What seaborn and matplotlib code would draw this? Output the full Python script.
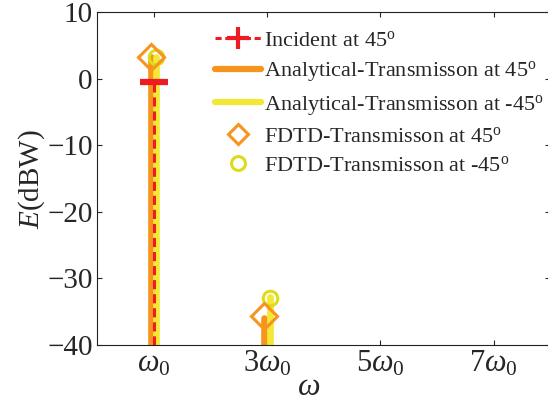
"""E-field spectrum: incident vs transmitted harmonics"""

import seaborn as sns
import matplotlib.pyplot as plt
from matplotlib.lines import Line2D

# harmonic positions in units of omega_0
harmonics = [1, 3]
incident_45 = [-0.5]                 # only the fundamental is visible
analytical_45 = [3.3, -36.0]
analytical_m45 = [3.3, -32.8]
fdtd_45 = [3.3, -35.7]
fdtd_m45 = [3.2, -33.0]

x_ticks = [1, 3, 5, 7]
x_ticklabels = [r"$\omega_0$", r"$3\omega_0$", r"$5\omega_0$", r"$7\omega_0$"]
y_ticks = [10, 0, -10, -20, -30, -40]

RED = "#ED1C24"
ORANGE = "#F7941D"
YELLOW = "#F2E835"
YELLOW_DARK = "#DEDC1A"

sns.set_theme(style="ticks")
plt.rcParams["font.family"] = ["Liberation Serif", "DejaVu Serif"]
plt.rcParams["mathtext.fontset"] = "custom"
plt.rcParams["mathtext.rm"] = "Liberation Serif"
plt.rcParams["mathtext.it"] = "Liberation Serif:italic"
plt.rcParams["xtick.direction"] = "in"
plt.rcParams["ytick.direction"] = "in"

fig = plt.figure(figsize=(5.48, 4.05), dpi=100)
ax = fig.add_axes([0.177, 0.148, 0.827, 0.822])

base = -40
off = 0.05
# stems
for x, v in zip(harmonics, analytical_45):
    sns.lineplot(x=[x - off, x - off], y=[base, v], color=ORANGE, lw=4.8,
                 estimator=None, sort=False, ax=ax)
for x, v in zip(harmonics, analytical_m45):
    sns.lineplot(x=[x + off, x + off], y=[base, v], color=YELLOW, lw=4.8,
                 estimator=None, sort=False, ax=ax)
for x, v in zip(harmonics[:1], incident_45):
    ax.plot([x + 0.01, x + 0.01], [base, v], color=RED, lw=2.2, ls=(0, (3, 1.6)))
    ax.plot([x + 0.01], [v], marker="_", ms=20, mew=4.5, color=RED)

# FDTD markers
ax.plot([x + off for x in harmonics], fdtd_m45, ls="none", marker="o", ms=10.5,
        mfc="none", mec=YELLOW_DARK, mew=2.2)
ax.plot([x - off for x in harmonics], fdtd_45, ls="none", marker="D", ms=13,
        mfc="none", mec=ORANGE, mew=2.2)

ax.set_xlim(0, 8)
ax.set_ylim(-40, 10)
ax.set_xticks(x_ticks)
ax.set_xticklabels(x_ticklabels, fontsize=22)
ax.set_yticks(y_ticks)
ax.tick_params(axis="y", labelsize=21)
ax.tick_params(length=3.5, width=0.8, top=True, right=True, pad=3)
for s in ax.spines.values():
    s.set_linewidth(0.8)
    s.set_color("#222222")

ax.set_xlabel(r"$\omega$", fontsize=23)
ax.xaxis.set_label_coords(0.466, -0.085)
ax.set_ylabel(r"$E$(dBW)", fontsize=21, labelpad=0)

handles = [
    Line2D([], [], color=RED, lw=2.2, ls=(0, (2, 1.2)), marker="+", ms=16, mew=3),
    Line2D([], [], color=ORANGE, lw=4.5),
    Line2D([], [], color=YELLOW, lw=4.5),
    Line2D([], [], ls="none", marker="D", ms=10, mfc="none", mec=ORANGE, mew=2.2),
    Line2D([], [], ls="none", marker="o", ms=10, mfc="none", mec=YELLOW_DARK, mew=2.2),
]
labels = [
    r"Incident at 45$^{\rm o}$",
    r"Analytical-Transmisson at 45$^{\rm o}$",
    r"Analytical-Transmisson at -45$^{\rm o}$",
    r"FDTD-Transmisson at 45$^{\rm o}$",
    r"FDTD-Transmisson at -45$^{\rm o}$",
]
fig.legend(handles, labels, loc="upper left", bbox_to_anchor=(0.392, 0.925),
           frameon=False, fontsize=16, handlelength=2.1, handletextpad=0.1,
           labelspacing=0.38, borderpad=0, borderaxespad=0)

fig.savefig("out.png", dpi=100)
